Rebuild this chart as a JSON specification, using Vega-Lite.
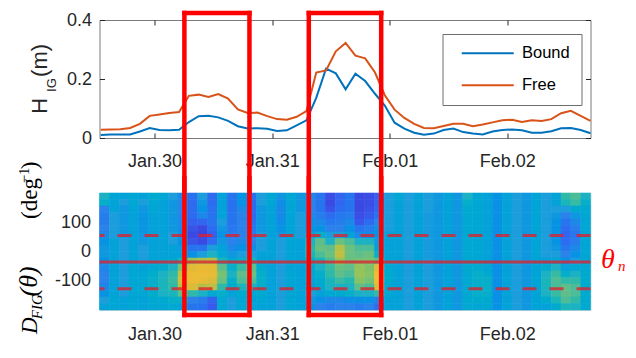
{
"$schema": "https://vega.github.io/schema/vega-lite/v6.json",
"padding": {"left": 15.5, "top": 9, "right": 4, "bottom": 4},
"background": "white",
"config": {"font": "Liberation Sans", "view": {"stroke": null}, "axis": {"labelFontSize": 18, "labelColor": "#262626", "grid": false, "tickColor": "#262626", "domainColor": "#262626", "labelFont": "Liberation Sans"}},
"spacing": 55,
"bounds": "flush",
"datasets": {
"waves": [
{"t":"2017-01-29T13:00","s":"Bound","h":0.010},{"t":"2017-01-29T15:00","s":"Bound","h":0.012},{"t":"2017-01-29T17:00","s":"Bound","h":0.012},{"t":"2017-01-29T19:00","s":"Bound","h":0.012},{"t":"2017-01-29T21:00","s":"Bound","h":0.022},{"t":"2017-01-29T23:00","s":"Bound","h":0.034},{"t":"2017-01-30T01:00","s":"Bound","h":0.027},{"t":"2017-01-30T03:00","s":"Bound","h":0.026},{"t":"2017-01-30T05:00","s":"Bound","h":0.028},{"t":"2017-01-30T07:00","s":"Bound","h":0.054},{"t":"2017-01-30T09:00","s":"Bound","h":0.074},{"t":"2017-01-30T11:00","s":"Bound","h":0.075},{"t":"2017-01-30T13:00","s":"Bound","h":0.070},{"t":"2017-01-30T15:00","s":"Bound","h":0.058},{"t":"2017-01-30T17:00","s":"Bound","h":0.040},{"t":"2017-01-30T19:00","s":"Bound","h":0.032},{"t":"2017-01-30T21:00","s":"Bound","h":0.033},{"t":"2017-01-30T23:00","s":"Bound","h":0.031},{"t":"2017-01-31T01:00","s":"Bound","h":0.024},{"t":"2017-01-31T03:00","s":"Bound","h":0.026},{"t":"2017-01-31T05:00","s":"Bound","h":0.043},{"t":"2017-01-31T07:00","s":"Bound","h":0.060},{"t":"2017-01-31T09:00","s":"Bound","h":0.136},{"t":"2017-01-31T11:00","s":"Bound","h":0.235},{"t":"2017-01-31T13:00","s":"Bound","h":0.219},{"t":"2017-01-31T15:00","s":"Bound","h":0.165},{"t":"2017-01-31T17:00","s":"Bound","h":0.218},{"t":"2017-01-31T19:00","s":"Bound","h":0.193},{"t":"2017-01-31T21:00","s":"Bound","h":0.150},{"t":"2017-01-31T23:00","s":"Bound","h":0.110},{"t":"2017-02-01T01:00","s":"Bound","h":0.052},{"t":"2017-02-01T03:00","s":"Bound","h":0.032},{"t":"2017-02-01T05:00","s":"Bound","h":0.018},{"t":"2017-02-01T07:00","s":"Bound","h":0.011},{"t":"2017-02-01T09:00","s":"Bound","h":0.015},{"t":"2017-02-01T11:00","s":"Bound","h":0.027},{"t":"2017-02-01T13:00","s":"Bound","h":0.032},{"t":"2017-02-01T15:00","s":"Bound","h":0.020},{"t":"2017-02-01T17:00","s":"Bound","h":0.015},{"t":"2017-02-01T19:00","s":"Bound","h":0.012},{"t":"2017-02-01T21:00","s":"Bound","h":0.022},{"t":"2017-02-01T23:00","s":"Bound","h":0.027},{"t":"2017-02-02T01:00","s":"Bound","h":0.029},{"t":"2017-02-02T03:00","s":"Bound","h":0.026},{"t":"2017-02-02T05:00","s":"Bound","h":0.018},{"t":"2017-02-02T07:00","s":"Bound","h":0.018},{"t":"2017-02-02T09:00","s":"Bound","h":0.023},{"t":"2017-02-02T11:00","s":"Bound","h":0.033},{"t":"2017-02-02T13:00","s":"Bound","h":0.034},{"t":"2017-02-02T15:00","s":"Bound","h":0.027},{"t":"2017-02-02T17:00","s":"Bound","h":0.016},
{"t":"2017-01-29T13:00","s":"Free","h":0.028},{"t":"2017-01-29T15:00","s":"Free","h":0.029},{"t":"2017-01-29T17:00","s":"Free","h":0.030},{"t":"2017-01-29T19:00","s":"Free","h":0.034},{"t":"2017-01-29T21:00","s":"Free","h":0.048},{"t":"2017-01-29T23:00","s":"Free","h":0.075},{"t":"2017-01-30T01:00","s":"Free","h":0.080},{"t":"2017-01-30T03:00","s":"Free","h":0.085},{"t":"2017-01-30T05:00","s":"Free","h":0.088},{"t":"2017-01-30T07:00","s":"Free","h":0.143},{"t":"2017-01-30T09:00","s":"Free","h":0.147},{"t":"2017-01-30T11:00","s":"Free","h":0.139},{"t":"2017-01-30T13:00","s":"Free","h":0.149},{"t":"2017-01-30T15:00","s":"Free","h":0.134},{"t":"2017-01-30T17:00","s":"Free","h":0.097},{"t":"2017-01-30T19:00","s":"Free","h":0.085},{"t":"2017-01-30T21:00","s":"Free","h":0.086},{"t":"2017-01-30T23:00","s":"Free","h":0.074},{"t":"2017-01-31T01:00","s":"Free","h":0.064},{"t":"2017-01-31T03:00","s":"Free","h":0.062},{"t":"2017-01-31T05:00","s":"Free","h":0.072},{"t":"2017-01-31T07:00","s":"Free","h":0.091},{"t":"2017-01-31T09:00","s":"Free","h":0.222},{"t":"2017-01-31T11:00","s":"Free","h":0.229},{"t":"2017-01-31T13:00","s":"Free","h":0.294},{"t":"2017-01-31T15:00","s":"Free","h":0.322},{"t":"2017-01-31T17:00","s":"Free","h":0.279},{"t":"2017-01-31T19:00","s":"Free","h":0.270},{"t":"2017-01-31T21:00","s":"Free","h":0.222},{"t":"2017-01-31T23:00","s":"Free","h":0.145},{"t":"2017-02-01T01:00","s":"Free","h":0.096},{"t":"2017-02-01T03:00","s":"Free","h":0.068},{"t":"2017-02-01T05:00","s":"Free","h":0.048},{"t":"2017-02-01T07:00","s":"Free","h":0.034},{"t":"2017-02-01T09:00","s":"Free","h":0.033},{"t":"2017-02-01T11:00","s":"Free","h":0.041},{"t":"2017-02-01T13:00","s":"Free","h":0.048},{"t":"2017-02-01T15:00","s":"Free","h":0.048},{"t":"2017-02-01T17:00","s":"Free","h":0.040},{"t":"2017-02-01T19:00","s":"Free","h":0.046},{"t":"2017-02-01T21:00","s":"Free","h":0.053},{"t":"2017-02-01T23:00","s":"Free","h":0.060},{"t":"2017-02-02T01:00","s":"Free","h":0.062},{"t":"2017-02-02T03:00","s":"Free","h":0.054},{"t":"2017-02-02T05:00","s":"Free","h":0.060},{"t":"2017-02-02T07:00","s":"Free","h":0.058},{"t":"2017-02-02T09:00","s":"Free","h":0.064},{"t":"2017-02-02T11:00","s":"Free","h":0.084},{"t":"2017-02-02T13:00","s":"Free","h":0.092},{"t":"2017-02-02T15:00","s":"Free","h":0.075},{"t":"2017-02-02T17:00","s":"Free","h":0.058}
],
"events": [
{"start":"2017-01-30T06:05","end":"2017-01-30T19:22"},
{"start":"2017-01-31T07:29","end":"2017-01-31T22:16"}
],
"guides": [
{"d":55,"k":"dashed"},{"d":-36,"k":"solid"},{"d":-127,"k":"dashed"}
],
"one": [{}],
"heat": [
{"c":0,"r":0,"v":50},{"c":0,"r":1,"v":48},{"c":0,"r":2,"v":30},{"c":0,"r":3,"v":28},{"c":0,"r":4,"v":28},{"c":0,"r":5,"v":30},{"c":0,"r":6,"v":32},{"c":0,"r":7,"v":36},{"c":0,"r":8,"v":38},{"c":0,"r":9,"v":38},{"c":0,"r":10,"v":36},{"c":0,"r":11,"v":32},{"c":0,"r":12,"v":30},{"c":0,"r":13,"v":30},{"c":0,"r":14,"v":32},{"c":0,"r":15,"v":36},{"c":0,"r":16,"v":40},{"c":0,"r":17,"v":42},
{"c":1,"r":0,"v":44},{"c":1,"r":1,"v":43},{"c":1,"r":2,"v":42},{"c":1,"r":3,"v":40},{"c":1,"r":4,"v":40},{"c":1,"r":5,"v":40},{"c":1,"r":6,"v":40},{"c":1,"r":7,"v":42},{"c":1,"r":8,"v":42},{"c":1,"r":9,"v":42},{"c":1,"r":10,"v":42},{"c":1,"r":11,"v":42},{"c":1,"r":12,"v":42},{"c":1,"r":13,"v":42},{"c":1,"r":14,"v":42},{"c":1,"r":15,"v":43},{"c":1,"r":16,"v":44},{"c":1,"r":17,"v":44},
{"c":2,"r":0,"v":42},{"c":2,"r":1,"v":40},{"c":2,"r":2,"v":38},{"c":2,"r":3,"v":38},{"c":2,"r":4,"v":38},{"c":2,"r":5,"v":38},{"c":2,"r":6,"v":38},{"c":2,"r":7,"v":40},{"c":2,"r":8,"v":40},{"c":2,"r":9,"v":40},{"c":2,"r":10,"v":40},{"c":2,"r":11,"v":40},{"c":2,"r":12,"v":40},{"c":2,"r":13,"v":40},{"c":2,"r":14,"v":40},{"c":2,"r":15,"v":40},{"c":2,"r":16,"v":42},{"c":2,"r":17,"v":42},
{"c":3,"r":0,"v":44},{"c":3,"r":1,"v":44},{"c":3,"r":2,"v":43},{"c":3,"r":3,"v":42},{"c":3,"r":4,"v":42},{"c":3,"r":5,"v":42},{"c":3,"r":6,"v":42},{"c":3,"r":7,"v":42},{"c":3,"r":8,"v":42},{"c":3,"r":9,"v":42},{"c":3,"r":10,"v":43},{"c":3,"r":11,"v":44},{"c":3,"r":12,"v":44},{"c":3,"r":13,"v":44},{"c":3,"r":14,"v":44},{"c":3,"r":15,"v":44},{"c":3,"r":16,"v":44},{"c":3,"r":17,"v":44},
{"c":4,"r":0,"v":42},{"c":4,"r":1,"v":40},{"c":4,"r":2,"v":38},{"c":4,"r":3,"v":37},{"c":4,"r":4,"v":37},{"c":4,"r":5,"v":37},{"c":4,"r":6,"v":38},{"c":4,"r":7,"v":38},{"c":4,"r":8,"v":40},{"c":4,"r":9,"v":40},{"c":4,"r":10,"v":40},{"c":4,"r":11,"v":42},{"c":4,"r":12,"v":44},{"c":4,"r":13,"v":45},{"c":4,"r":14,"v":45},{"c":4,"r":15,"v":44},{"c":4,"r":16,"v":42},{"c":4,"r":17,"v":42},
{"c":5,"r":0,"v":46},{"c":5,"r":1,"v":45},{"c":5,"r":2,"v":44},{"c":5,"r":3,"v":42},{"c":5,"r":4,"v":42},{"c":5,"r":5,"v":42},{"c":5,"r":6,"v":42},{"c":5,"r":7,"v":42},{"c":5,"r":8,"v":42},{"c":5,"r":9,"v":42},{"c":5,"r":10,"v":43},{"c":5,"r":11,"v":45},{"c":5,"r":12,"v":47},{"c":5,"r":13,"v":48},{"c":5,"r":14,"v":48},{"c":5,"r":15,"v":47},{"c":5,"r":16,"v":45},{"c":5,"r":17,"v":44},
{"c":6,"r":0,"v":44},{"c":6,"r":1,"v":42},{"c":6,"r":2,"v":42},{"c":6,"r":3,"v":42},{"c":6,"r":4,"v":42},{"c":6,"r":5,"v":42},{"c":6,"r":6,"v":42},{"c":6,"r":7,"v":42},{"c":6,"r":8,"v":42},{"c":6,"r":9,"v":42},{"c":6,"r":10,"v":44},{"c":6,"r":11,"v":46},{"c":6,"r":12,"v":50},{"c":6,"r":13,"v":52},{"c":6,"r":14,"v":52},{"c":6,"r":15,"v":50},{"c":6,"r":16,"v":46},{"c":6,"r":17,"v":44},
{"c":7,"r":0,"v":40},{"c":7,"r":1,"v":38},{"c":7,"r":2,"v":38},{"c":7,"r":3,"v":38},{"c":7,"r":4,"v":38},{"c":7,"r":5,"v":38},{"c":7,"r":6,"v":40},{"c":7,"r":7,"v":40},{"c":7,"r":8,"v":42},{"c":7,"r":9,"v":42},{"c":7,"r":10,"v":45},{"c":7,"r":11,"v":50},{"c":7,"r":12,"v":55},{"c":7,"r":13,"v":56},{"c":7,"r":14,"v":55},{"c":7,"r":15,"v":52},{"c":7,"r":16,"v":48},{"c":7,"r":17,"v":45},
{"c":8,"r":0,"v":32},{"c":8,"r":1,"v":30},{"c":8,"r":2,"v":30},{"c":8,"r":3,"v":30},{"c":8,"r":4,"v":32},{"c":8,"r":5,"v":33},{"c":8,"r":6,"v":35},{"c":8,"r":7,"v":36},{"c":8,"r":8,"v":38},{"c":8,"r":9,"v":42},{"c":8,"r":10,"v":52},{"c":8,"r":11,"v":65},{"c":8,"r":12,"v":75},{"c":8,"r":13,"v":78},{"c":8,"r":14,"v":72},{"c":8,"r":15,"v":60},{"c":8,"r":16,"v":48},{"c":8,"r":17,"v":42},
{"c":9,"r":0,"v":24},{"c":9,"r":1,"v":22},{"c":9,"r":2,"v":22},{"c":9,"r":3,"v":22},{"c":9,"r":4,"v":18},{"c":9,"r":5,"v":12},{"c":9,"r":6,"v":8},{"c":9,"r":7,"v":12},{"c":9,"r":8,"v":25},{"c":9,"r":9,"v":35},{"c":9,"r":10,"v":68},{"c":9,"r":11,"v":82},{"c":9,"r":12,"v":86},{"c":9,"r":13,"v":86},{"c":9,"r":14,"v":80},{"c":9,"r":15,"v":55},{"c":9,"r":16,"v":30},{"c":9,"r":17,"v":25},
{"c":10,"r":0,"v":40},{"c":10,"r":1,"v":38},{"c":10,"r":2,"v":36},{"c":10,"r":3,"v":32},{"c":10,"r":4,"v":20},{"c":10,"r":5,"v":8},{"c":10,"r":6,"v":5},{"c":10,"r":7,"v":8},{"c":10,"r":8,"v":25},{"c":10,"r":9,"v":40},{"c":10,"r":10,"v":70},{"c":10,"r":11,"v":85},{"c":10,"r":12,"v":87},{"c":10,"r":13,"v":85},{"c":10,"r":14,"v":72},{"c":10,"r":15,"v":50},{"c":10,"r":16,"v":28},{"c":10,"r":17,"v":24},
{"c":11,"r":0,"v":22},{"c":11,"r":1,"v":22},{"c":11,"r":2,"v":24},{"c":11,"r":3,"v":25},{"c":11,"r":4,"v":25},{"c":11,"r":5,"v":22},{"c":11,"r":6,"v":18},{"c":11,"r":7,"v":22},{"c":11,"r":8,"v":40},{"c":11,"r":9,"v":50},{"c":11,"r":10,"v":72},{"c":11,"r":11,"v":84},{"c":11,"r":12,"v":85},{"c":11,"r":13,"v":80},{"c":11,"r":14,"v":74},{"c":11,"r":15,"v":45},{"c":11,"r":16,"v":18},{"c":11,"r":17,"v":15},
{"c":12,"r":0,"v":42},{"c":12,"r":1,"v":42},{"c":12,"r":2,"v":42},{"c":12,"r":3,"v":42},{"c":12,"r":4,"v":40},{"c":12,"r":5,"v":38},{"c":12,"r":6,"v":36},{"c":12,"r":7,"v":38},{"c":12,"r":8,"v":42},{"c":12,"r":9,"v":45},{"c":12,"r":10,"v":52},{"c":12,"r":11,"v":60},{"c":12,"r":12,"v":64},{"c":12,"r":13,"v":62},{"c":12,"r":14,"v":55},{"c":12,"r":15,"v":48},{"c":12,"r":16,"v":45},{"c":12,"r":17,"v":45},
{"c":13,"r":0,"v":25},{"c":13,"r":1,"v":24},{"c":13,"r":2,"v":24},{"c":13,"r":3,"v":25},{"c":13,"r":4,"v":25},{"c":13,"r":5,"v":26},{"c":13,"r":6,"v":28},{"c":13,"r":7,"v":30},{"c":13,"r":8,"v":32},{"c":13,"r":9,"v":38},{"c":13,"r":10,"v":45},{"c":13,"r":11,"v":48},{"c":13,"r":12,"v":50},{"c":13,"r":13,"v":48},{"c":13,"r":14,"v":46},{"c":13,"r":15,"v":42},{"c":13,"r":16,"v":40},{"c":13,"r":17,"v":40},
{"c":14,"r":0,"v":36},{"c":14,"r":1,"v":35},{"c":14,"r":2,"v":32},{"c":14,"r":3,"v":30},{"c":14,"r":4,"v":30},{"c":14,"r":5,"v":30},{"c":14,"r":6,"v":30},{"c":14,"r":7,"v":32},{"c":14,"r":8,"v":35},{"c":14,"r":9,"v":40},{"c":14,"r":10,"v":48},{"c":14,"r":11,"v":56},{"c":14,"r":12,"v":60},{"c":14,"r":13,"v":58},{"c":14,"r":14,"v":52},{"c":14,"r":15,"v":46},{"c":14,"r":16,"v":44},{"c":14,"r":17,"v":44},
{"c":15,"r":0,"v":24},{"c":15,"r":1,"v":22},{"c":15,"r":2,"v":22},{"c":15,"r":3,"v":22},{"c":15,"r":4,"v":24},{"c":15,"r":5,"v":26},{"c":15,"r":6,"v":28},{"c":15,"r":7,"v":30},{"c":15,"r":8,"v":34},{"c":15,"r":9,"v":40},{"c":15,"r":10,"v":52},{"c":15,"r":11,"v":60},{"c":15,"r":12,"v":62},{"c":15,"r":13,"v":58},{"c":15,"r":14,"v":50},{"c":15,"r":15,"v":44},{"c":15,"r":16,"v":42},{"c":15,"r":17,"v":42},
{"c":16,"r":0,"v":40},{"c":16,"r":1,"v":40},{"c":16,"r":2,"v":38},{"c":16,"r":3,"v":38},{"c":16,"r":4,"v":38},{"c":16,"r":5,"v":38},{"c":16,"r":6,"v":40},{"c":16,"r":7,"v":40},{"c":16,"r":8,"v":40},{"c":16,"r":9,"v":42},{"c":16,"r":10,"v":42},{"c":16,"r":11,"v":46},{"c":16,"r":12,"v":48},{"c":16,"r":13,"v":48},{"c":16,"r":14,"v":48},{"c":16,"r":15,"v":46},{"c":16,"r":16,"v":44},{"c":16,"r":17,"v":42},
{"c":17,"r":0,"v":44},{"c":17,"r":1,"v":44},{"c":17,"r":2,"v":42},{"c":17,"r":3,"v":42},{"c":17,"r":4,"v":42},{"c":17,"r":5,"v":42},{"c":17,"r":6,"v":42},{"c":17,"r":7,"v":42},{"c":17,"r":8,"v":42},{"c":17,"r":9,"v":42},{"c":17,"r":10,"v":42},{"c":17,"r":11,"v":42},{"c":17,"r":12,"v":42},{"c":17,"r":13,"v":42},{"c":17,"r":14,"v":42},{"c":17,"r":15,"v":42},{"c":17,"r":16,"v":42},{"c":17,"r":17,"v":42},
{"c":18,"r":0,"v":38},{"c":18,"r":1,"v":34},{"c":18,"r":2,"v":33},{"c":18,"r":3,"v":33},{"c":18,"r":4,"v":34},{"c":18,"r":5,"v":36},{"c":18,"r":6,"v":38},{"c":18,"r":7,"v":40},{"c":18,"r":8,"v":40},{"c":18,"r":9,"v":40},{"c":18,"r":10,"v":40},{"c":18,"r":11,"v":40},{"c":18,"r":12,"v":40},{"c":18,"r":13,"v":40},{"c":18,"r":14,"v":40},{"c":18,"r":15,"v":40},{"c":18,"r":16,"v":40},{"c":18,"r":17,"v":40},
{"c":19,"r":0,"v":44},{"c":19,"r":1,"v":44},{"c":19,"r":2,"v":44},{"c":19,"r":3,"v":43},{"c":19,"r":4,"v":43},{"c":19,"r":5,"v":43},{"c":19,"r":6,"v":43},{"c":19,"r":7,"v":43},{"c":19,"r":8,"v":43},{"c":19,"r":9,"v":43},{"c":19,"r":10,"v":43},{"c":19,"r":11,"v":43},{"c":19,"r":12,"v":44},{"c":19,"r":13,"v":44},{"c":19,"r":14,"v":44},{"c":19,"r":15,"v":44},{"c":19,"r":16,"v":44},{"c":19,"r":17,"v":44},
{"c":20,"r":0,"v":38},{"c":20,"r":1,"v":38},{"c":20,"r":2,"v":38},{"c":20,"r":3,"v":40},{"c":20,"r":4,"v":40},{"c":20,"r":5,"v":40},{"c":20,"r":6,"v":40},{"c":20,"r":7,"v":42},{"c":20,"r":8,"v":42},{"c":20,"r":9,"v":42},{"c":20,"r":10,"v":42},{"c":20,"r":11,"v":42},{"c":20,"r":12,"v":42},{"c":20,"r":13,"v":42},{"c":20,"r":14,"v":42},{"c":20,"r":15,"v":42},{"c":20,"r":16,"v":42},{"c":20,"r":17,"v":42},
{"c":21,"r":0,"v":32},{"c":21,"r":1,"v":30},{"c":21,"r":2,"v":30},{"c":21,"r":3,"v":32},{"c":21,"r":4,"v":34},{"c":21,"r":5,"v":36},{"c":21,"r":6,"v":42},{"c":21,"r":7,"v":50},{"c":21,"r":8,"v":54},{"c":21,"r":9,"v":52},{"c":21,"r":10,"v":48},{"c":21,"r":11,"v":45},{"c":21,"r":12,"v":44},{"c":21,"r":13,"v":42},{"c":21,"r":14,"v":42},{"c":21,"r":15,"v":40},{"c":21,"r":16,"v":38},{"c":21,"r":17,"v":36},
{"c":22,"r":0,"v":25},{"c":22,"r":1,"v":25},{"c":22,"r":2,"v":25},{"c":22,"r":3,"v":28},{"c":22,"r":4,"v":32},{"c":22,"r":5,"v":36},{"c":22,"r":6,"v":48},{"c":22,"r":7,"v":60},{"c":22,"r":8,"v":62},{"c":22,"r":9,"v":58},{"c":22,"r":10,"v":52},{"c":22,"r":11,"v":50},{"c":22,"r":12,"v":48},{"c":22,"r":13,"v":46},{"c":22,"r":14,"v":45},{"c":22,"r":15,"v":42},{"c":22,"r":16,"v":35},{"c":22,"r":17,"v":30},
{"c":23,"r":0,"v":10},{"c":23,"r":1,"v":8},{"c":23,"r":2,"v":12},{"c":23,"r":3,"v":22},{"c":23,"r":4,"v":26},{"c":23,"r":5,"v":30},{"c":23,"r":6,"v":40},{"c":23,"r":7,"v":50},{"c":23,"r":8,"v":60},{"c":23,"r":9,"v":62},{"c":23,"r":10,"v":58},{"c":23,"r":11,"v":56},{"c":23,"r":12,"v":55},{"c":23,"r":13,"v":52},{"c":23,"r":14,"v":50},{"c":23,"r":15,"v":45},{"c":23,"r":16,"v":32},{"c":23,"r":17,"v":28},
{"c":24,"r":0,"v":20},{"c":24,"r":1,"v":20},{"c":24,"r":2,"v":22},{"c":24,"r":3,"v":26},{"c":24,"r":4,"v":28},{"c":24,"r":5,"v":30},{"c":24,"r":6,"v":40},{"c":24,"r":7,"v":62},{"c":24,"r":8,"v":72},{"c":24,"r":9,"v":75},{"c":24,"r":10,"v":68},{"c":24,"r":11,"v":62},{"c":24,"r":12,"v":60},{"c":24,"r":13,"v":56},{"c":24,"r":14,"v":50},{"c":24,"r":15,"v":46},{"c":24,"r":16,"v":32},{"c":24,"r":17,"v":30},
{"c":25,"r":0,"v":25},{"c":25,"r":1,"v":25},{"c":25,"r":2,"v":25},{"c":25,"r":3,"v":28},{"c":25,"r":4,"v":32},{"c":25,"r":5,"v":35},{"c":25,"r":6,"v":42},{"c":25,"r":7,"v":58},{"c":25,"r":8,"v":62},{"c":25,"r":9,"v":62},{"c":25,"r":10,"v":62},{"c":25,"r":11,"v":60},{"c":25,"r":12,"v":58},{"c":25,"r":13,"v":54},{"c":25,"r":14,"v":50},{"c":25,"r":15,"v":48},{"c":25,"r":16,"v":34},{"c":25,"r":17,"v":30},
{"c":26,"r":0,"v":8},{"c":26,"r":1,"v":8},{"c":26,"r":2,"v":8},{"c":26,"r":3,"v":10},{"c":26,"r":4,"v":14},{"c":26,"r":5,"v":25},{"c":26,"r":6,"v":32},{"c":26,"r":7,"v":50},{"c":26,"r":8,"v":58},{"c":26,"r":9,"v":60},{"c":26,"r":10,"v":64},{"c":26,"r":11,"v":68},{"c":26,"r":12,"v":68},{"c":26,"r":13,"v":66},{"c":26,"r":14,"v":60},{"c":26,"r":15,"v":50},{"c":26,"r":16,"v":35},{"c":26,"r":17,"v":28},
{"c":27,"r":0,"v":10},{"c":27,"r":1,"v":10},{"c":27,"r":2,"v":12},{"c":27,"r":3,"v":15},{"c":27,"r":4,"v":22},{"c":27,"r":5,"v":28},{"c":27,"r":6,"v":34},{"c":27,"r":7,"v":50},{"c":27,"r":8,"v":58},{"c":27,"r":9,"v":62},{"c":27,"r":10,"v":64},{"c":27,"r":11,"v":65},{"c":27,"r":12,"v":66},{"c":27,"r":13,"v":64},{"c":27,"r":14,"v":58},{"c":27,"r":15,"v":50},{"c":27,"r":16,"v":35},{"c":27,"r":17,"v":30},
{"c":28,"r":0,"v":18},{"c":28,"r":1,"v":18},{"c":28,"r":2,"v":20},{"c":28,"r":3,"v":24},{"c":28,"r":4,"v":30},{"c":28,"r":5,"v":34},{"c":28,"r":6,"v":36},{"c":28,"r":7,"v":38},{"c":28,"r":8,"v":42},{"c":28,"r":9,"v":48},{"c":28,"r":10,"v":60},{"c":28,"r":11,"v":82},{"c":28,"r":12,"v":88},{"c":28,"r":13,"v":88},{"c":28,"r":14,"v":80},{"c":28,"r":15,"v":55},{"c":28,"r":16,"v":28},{"c":28,"r":17,"v":22},
{"c":29,"r":0,"v":40},{"c":29,"r":1,"v":40},{"c":29,"r":2,"v":40},{"c":29,"r":3,"v":40},{"c":29,"r":4,"v":40},{"c":29,"r":5,"v":40},{"c":29,"r":6,"v":42},{"c":29,"r":7,"v":42},{"c":29,"r":8,"v":42},{"c":29,"r":9,"v":42},{"c":29,"r":10,"v":44},{"c":29,"r":11,"v":45},{"c":29,"r":12,"v":46},{"c":29,"r":13,"v":46},{"c":29,"r":14,"v":45},{"c":29,"r":15,"v":44},{"c":29,"r":16,"v":42},{"c":29,"r":17,"v":42},
{"c":30,"r":0,"v":44},{"c":30,"r":1,"v":42},{"c":30,"r":2,"v":42},{"c":30,"r":3,"v":42},{"c":30,"r":4,"v":42},{"c":30,"r":5,"v":42},{"c":30,"r":6,"v":42},{"c":30,"r":7,"v":42},{"c":30,"r":8,"v":42},{"c":30,"r":9,"v":42},{"c":30,"r":10,"v":42},{"c":30,"r":11,"v":42},{"c":30,"r":12,"v":42},{"c":30,"r":13,"v":42},{"c":30,"r":14,"v":42},{"c":30,"r":15,"v":42},{"c":30,"r":16,"v":42},{"c":30,"r":17,"v":42},
{"c":31,"r":0,"v":40},{"c":31,"r":1,"v":40},{"c":31,"r":2,"v":40},{"c":31,"r":3,"v":40},{"c":31,"r":4,"v":40},{"c":31,"r":5,"v":40},{"c":31,"r":6,"v":40},{"c":31,"r":7,"v":40},{"c":31,"r":8,"v":40},{"c":31,"r":9,"v":40},{"c":31,"r":10,"v":40},{"c":31,"r":11,"v":40},{"c":31,"r":12,"v":40},{"c":31,"r":13,"v":40},{"c":31,"r":14,"v":40},{"c":31,"r":15,"v":40},{"c":31,"r":16,"v":40},{"c":31,"r":17,"v":40},
{"c":32,"r":0,"v":42},{"c":32,"r":1,"v":42},{"c":32,"r":2,"v":42},{"c":32,"r":3,"v":42},{"c":32,"r":4,"v":42},{"c":32,"r":5,"v":42},{"c":32,"r":6,"v":42},{"c":32,"r":7,"v":42},{"c":32,"r":8,"v":42},{"c":32,"r":9,"v":42},{"c":32,"r":10,"v":42},{"c":32,"r":11,"v":42},{"c":32,"r":12,"v":42},{"c":32,"r":13,"v":42},{"c":32,"r":14,"v":42},{"c":32,"r":15,"v":42},{"c":32,"r":16,"v":42},{"c":32,"r":17,"v":42},
{"c":33,"r":0,"v":40},{"c":33,"r":1,"v":40},{"c":33,"r":2,"v":40},{"c":33,"r":3,"v":39},{"c":33,"r":4,"v":39},{"c":33,"r":5,"v":39},{"c":33,"r":6,"v":39},{"c":33,"r":7,"v":39},{"c":33,"r":8,"v":39},{"c":33,"r":9,"v":39},{"c":33,"r":10,"v":40},{"c":33,"r":11,"v":40},{"c":33,"r":12,"v":40},{"c":33,"r":13,"v":40},{"c":33,"r":14,"v":40},{"c":33,"r":15,"v":40},{"c":33,"r":16,"v":40},{"c":33,"r":17,"v":40},
{"c":34,"r":0,"v":38},{"c":34,"r":1,"v":38},{"c":34,"r":2,"v":38},{"c":34,"r":3,"v":38},{"c":34,"r":4,"v":38},{"c":34,"r":5,"v":38},{"c":34,"r":6,"v":38},{"c":34,"r":7,"v":38},{"c":34,"r":8,"v":38},{"c":34,"r":9,"v":38},{"c":34,"r":10,"v":38},{"c":34,"r":11,"v":38},{"c":34,"r":12,"v":38},{"c":34,"r":13,"v":38},{"c":34,"r":14,"v":38},{"c":34,"r":15,"v":38},{"c":34,"r":16,"v":38},{"c":34,"r":17,"v":38},
{"c":35,"r":0,"v":42},{"c":35,"r":1,"v":42},{"c":35,"r":2,"v":42},{"c":35,"r":3,"v":42},{"c":35,"r":4,"v":42},{"c":35,"r":5,"v":42},{"c":35,"r":6,"v":42},{"c":35,"r":7,"v":42},{"c":35,"r":8,"v":42},{"c":35,"r":9,"v":42},{"c":35,"r":10,"v":42},{"c":35,"r":11,"v":42},{"c":35,"r":12,"v":42},{"c":35,"r":13,"v":42},{"c":35,"r":14,"v":42},{"c":35,"r":15,"v":42},{"c":35,"r":16,"v":42},{"c":35,"r":17,"v":42},
{"c":36,"r":0,"v":38},{"c":36,"r":1,"v":38},{"c":36,"r":2,"v":38},{"c":36,"r":3,"v":38},{"c":36,"r":4,"v":38},{"c":36,"r":5,"v":38},{"c":36,"r":6,"v":38},{"c":36,"r":7,"v":38},{"c":36,"r":8,"v":38},{"c":36,"r":9,"v":38},{"c":36,"r":10,"v":38},{"c":36,"r":11,"v":38},{"c":36,"r":12,"v":38},{"c":36,"r":13,"v":38},{"c":36,"r":14,"v":38},{"c":36,"r":15,"v":38},{"c":36,"r":16,"v":38},{"c":36,"r":17,"v":38},
{"c":37,"r":0,"v":50},{"c":37,"r":1,"v":48},{"c":37,"r":2,"v":46},{"c":37,"r":3,"v":45},{"c":37,"r":4,"v":45},{"c":37,"r":5,"v":45},{"c":37,"r":6,"v":45},{"c":37,"r":7,"v":45},{"c":37,"r":8,"v":45},{"c":37,"r":9,"v":45},{"c":37,"r":10,"v":45},{"c":37,"r":11,"v":45},{"c":37,"r":12,"v":45},{"c":37,"r":13,"v":45},{"c":37,"r":14,"v":45},{"c":37,"r":15,"v":45},{"c":37,"r":16,"v":45},{"c":37,"r":17,"v":45},
{"c":38,"r":0,"v":44},{"c":38,"r":1,"v":44},{"c":38,"r":2,"v":44},{"c":38,"r":3,"v":44},{"c":38,"r":4,"v":44},{"c":38,"r":5,"v":44},{"c":38,"r":6,"v":44},{"c":38,"r":7,"v":44},{"c":38,"r":8,"v":44},{"c":38,"r":9,"v":44},{"c":38,"r":10,"v":44},{"c":38,"r":11,"v":46},{"c":38,"r":12,"v":48},{"c":38,"r":13,"v":48},{"c":38,"r":14,"v":48},{"c":38,"r":15,"v":48},{"c":38,"r":16,"v":46},{"c":38,"r":17,"v":44},
{"c":39,"r":0,"v":42},{"c":39,"r":1,"v":42},{"c":39,"r":2,"v":42},{"c":39,"r":3,"v":42},{"c":39,"r":4,"v":42},{"c":39,"r":5,"v":42},{"c":39,"r":6,"v":42},{"c":39,"r":7,"v":42},{"c":39,"r":8,"v":42},{"c":39,"r":9,"v":42},{"c":39,"r":10,"v":42},{"c":39,"r":11,"v":44},{"c":39,"r":12,"v":46},{"c":39,"r":13,"v":48},{"c":39,"r":14,"v":48},{"c":39,"r":15,"v":48},{"c":39,"r":16,"v":46},{"c":39,"r":17,"v":44},
{"c":40,"r":0,"v":36},{"c":40,"r":1,"v":35},{"c":40,"r":2,"v":35},{"c":40,"r":3,"v":35},{"c":40,"r":4,"v":35},{"c":40,"r":5,"v":35},{"c":40,"r":6,"v":35},{"c":40,"r":7,"v":35},{"c":40,"r":8,"v":35},{"c":40,"r":9,"v":35},{"c":40,"r":10,"v":35},{"c":40,"r":11,"v":35},{"c":40,"r":12,"v":35},{"c":40,"r":13,"v":35},{"c":40,"r":14,"v":35},{"c":40,"r":15,"v":35},{"c":40,"r":16,"v":35},{"c":40,"r":17,"v":36},
{"c":41,"r":0,"v":42},{"c":41,"r":1,"v":42},{"c":41,"r":2,"v":42},{"c":41,"r":3,"v":42},{"c":41,"r":4,"v":42},{"c":41,"r":5,"v":42},{"c":41,"r":6,"v":42},{"c":41,"r":7,"v":42},{"c":41,"r":8,"v":42},{"c":41,"r":9,"v":42},{"c":41,"r":10,"v":42},{"c":41,"r":11,"v":42},{"c":41,"r":12,"v":42},{"c":41,"r":13,"v":42},{"c":41,"r":14,"v":42},{"c":41,"r":15,"v":42},{"c":41,"r":16,"v":42},{"c":41,"r":17,"v":42},
{"c":42,"r":0,"v":40},{"c":42,"r":1,"v":40},{"c":42,"r":2,"v":40},{"c":42,"r":3,"v":40},{"c":42,"r":4,"v":40},{"c":42,"r":5,"v":40},{"c":42,"r":6,"v":40},{"c":42,"r":7,"v":40},{"c":42,"r":8,"v":40},{"c":42,"r":9,"v":40},{"c":42,"r":10,"v":40},{"c":42,"r":11,"v":40},{"c":42,"r":12,"v":40},{"c":42,"r":13,"v":40},{"c":42,"r":14,"v":40},{"c":42,"r":15,"v":40},{"c":42,"r":16,"v":40},{"c":42,"r":17,"v":40},
{"c":43,"r":0,"v":38},{"c":43,"r":1,"v":38},{"c":43,"r":2,"v":38},{"c":43,"r":3,"v":38},{"c":43,"r":4,"v":38},{"c":43,"r":5,"v":38},{"c":43,"r":6,"v":38},{"c":43,"r":7,"v":38},{"c":43,"r":8,"v":38},{"c":43,"r":9,"v":38},{"c":43,"r":10,"v":38},{"c":43,"r":11,"v":38},{"c":43,"r":12,"v":38},{"c":43,"r":13,"v":38},{"c":43,"r":14,"v":38},{"c":43,"r":15,"v":38},{"c":43,"r":16,"v":38},{"c":43,"r":17,"v":38},
{"c":44,"r":0,"v":43},{"c":44,"r":1,"v":43},{"c":44,"r":2,"v":43},{"c":44,"r":3,"v":43},{"c":44,"r":4,"v":43},{"c":44,"r":5,"v":43},{"c":44,"r":6,"v":43},{"c":44,"r":7,"v":43},{"c":44,"r":8,"v":43},{"c":44,"r":9,"v":43},{"c":44,"r":10,"v":43},{"c":44,"r":11,"v":43},{"c":44,"r":12,"v":43},{"c":44,"r":13,"v":43},{"c":44,"r":14,"v":43},{"c":44,"r":15,"v":43},{"c":44,"r":16,"v":43},{"c":44,"r":17,"v":43},
{"c":45,"r":0,"v":40},{"c":45,"r":1,"v":40},{"c":45,"r":2,"v":40},{"c":45,"r":3,"v":40},{"c":45,"r":4,"v":40},{"c":45,"r":5,"v":40},{"c":45,"r":6,"v":40},{"c":45,"r":7,"v":40},{"c":45,"r":8,"v":40},{"c":45,"r":9,"v":40},{"c":45,"r":10,"v":42},{"c":45,"r":11,"v":46},{"c":45,"r":12,"v":50},{"c":45,"r":13,"v":52},{"c":45,"r":14,"v":52},{"c":45,"r":15,"v":50},{"c":45,"r":16,"v":46},{"c":45,"r":17,"v":42},
{"c":46,"r":0,"v":42},{"c":46,"r":1,"v":42},{"c":46,"r":2,"v":40},{"c":46,"r":3,"v":38},{"c":46,"r":4,"v":36},{"c":46,"r":5,"v":36},{"c":46,"r":6,"v":36},{"c":46,"r":7,"v":36},{"c":46,"r":8,"v":38},{"c":46,"r":9,"v":40},{"c":46,"r":10,"v":44},{"c":46,"r":11,"v":50},{"c":46,"r":12,"v":56},{"c":46,"r":13,"v":58},{"c":46,"r":14,"v":58},{"c":46,"r":15,"v":56},{"c":46,"r":16,"v":52},{"c":46,"r":17,"v":46},
{"c":47,"r":0,"v":55},{"c":47,"r":1,"v":52},{"c":47,"r":2,"v":40},{"c":47,"r":3,"v":30},{"c":47,"r":4,"v":25},{"c":47,"r":5,"v":22},{"c":47,"r":6,"v":20},{"c":47,"r":7,"v":22},{"c":47,"r":8,"v":26},{"c":47,"r":9,"v":30},{"c":47,"r":10,"v":36},{"c":47,"r":11,"v":42},{"c":47,"r":12,"v":48},{"c":47,"r":13,"v":55},{"c":47,"r":14,"v":60},{"c":47,"r":15,"v":60},{"c":47,"r":16,"v":58},{"c":47,"r":17,"v":52},
{"c":48,"r":0,"v":58},{"c":48,"r":1,"v":56},{"c":48,"r":2,"v":46},{"c":48,"r":3,"v":38},{"c":48,"r":4,"v":32},{"c":48,"r":5,"v":28},{"c":48,"r":6,"v":26},{"c":48,"r":7,"v":28},{"c":48,"r":8,"v":32},{"c":48,"r":9,"v":36},{"c":48,"r":10,"v":40},{"c":48,"r":11,"v":44},{"c":48,"r":12,"v":50},{"c":48,"r":13,"v":55},{"c":48,"r":14,"v":58},{"c":48,"r":15,"v":58},{"c":48,"r":16,"v":55},{"c":48,"r":17,"v":50},
{"c":49,"r":0,"v":50},{"c":49,"r":1,"v":48},{"c":49,"r":2,"v":45},{"c":49,"r":3,"v":44},{"c":49,"r":4,"v":44},{"c":49,"r":5,"v":44},{"c":49,"r":6,"v":44},{"c":49,"r":7,"v":44},{"c":49,"r":8,"v":44},{"c":49,"r":9,"v":44},{"c":49,"r":10,"v":44},{"c":49,"r":11,"v":45},{"c":49,"r":12,"v":46},{"c":49,"r":13,"v":46},{"c":49,"r":14,"v":46},{"c":49,"r":15,"v":46},{"c":49,"r":16,"v":46},{"c":49,"r":17,"v":46}
]
},
"vconcat": [
{
"width": 491, "height": 118,
"view": {"stroke": "#7a7a7a", "strokeWidth": 1},
"resolve": {"axis": {"x": "independent", "y": "independent"}},
"layer": [
{
"data": {"name": "waves"},
"mark": {"type": "line", "strokeWidth": 2},
"encoding": {
"x": {"field": "t", "type": "temporal", "scale": {"domain": [{"year":2017,"month":1,"date":29,"hours":12,"minutes":45},{"year":2017,"month":2,"date":2,"hours":17}]},
 "axis": {"orient": "bottom", "title": null, "domain": false, "format": "%b.%d", "values": [{"year":2017,"month":1,"date":30},{"year":2017,"month":1,"date":31},{"year":2017,"month":2,"date":1},{"year":2017,"month":2,"date":2}], "tickSize": -5, "labelPadding": 19}},
"y": {"field": "h", "type": "quantitative", "scale": {"domain": [0, 0.4]},
 "axis": {"orient": "left", "title": null, "domain": false, "values": [0, 0.2, 0.4], "format": "~g", "tickSize": -5, "labelPadding": 13}},
"color": {"field": "s", "type": "nominal", "scale": {"domain": ["Bound", "Free"], "range": ["#0072BD", "#D95319"]},
 "legend": {"title": null, "orient": "none", "legendX": 343, "legendY": 14, "symbolType": "M0,0H20", "symbolSize": 27.04, "symbolStrokeWidth": 2, "labelFontSize": 16.5, "labelColor": "#000000", "labelFont": "Liberation Sans", "fillColor": "white", "strokeColor": "#6e6e6e", "padding": 11, "labelOffset": 52, "rowPadding": 15}}
}
},
{
"data": {"name": "events"},
"mark": {"type": "rule", "color": "#FF0000", "strokeWidth": 4.5, "strokeCap": "square"},
"encoding": {
"x": {"field": "start", "type": "temporal", "axis": {"orient": "top", "title": null, "labels": false, "domain": false, "values": [{"year":2017,"month":1,"date":30},{"year":2017,"month":1,"date":31},{"year":2017,"month":2,"date":1},{"year":2017,"month":2,"date":2}], "tickSize": -5}},
"y": {"datum": 0.4237, "type": "quantitative", "axis": {"orient": "right", "title": null, "labels": false, "domain": false, "values": [0, 0.2, 0.4], "tickSize": -5}},
"y2": {"datum": -0.25}
}
},
{
"data": {"name": "events"},
"mark": {"type": "rule", "color": "#FF0000", "strokeWidth": 4.5, "strokeCap": "square"},
"encoding": {
"x": {"field": "end", "type": "temporal", "axis": null},
"y": {"datum": 0.4237, "type": "quantitative", "axis": null},
"y2": {"datum": -0.25}
}
},
{
"data": {"name": "events"},
"mark": {"type": "rule", "color": "#FF0000", "strokeWidth": 4.5, "strokeCap": "square"},
"encoding": {
"x": {"field": "start", "type": "temporal", "axis": null},
"x2": {"field": "end"},
"y": {"datum": 0.4237, "type": "quantitative", "axis": null}
}
},
{
"data": {"name": "one"},
"mark": {"type": "text", "text": "H", "angle": 270, "align": "left", "baseline": "alphabetic", "fontSize": 22, "color": "#262626"},
"encoding": {"x": {"datum": {"year":2017,"month":1,"date":29,"hours":2,"minutes":5}, "type": "temporal", "axis": null}, "y": {"datum": 0.0824, "type": "quantitative", "axis": null}}
},
{
"data": {"name": "one"},
"mark": {"type": "text", "text": "IG", "angle": 270, "align": "left", "baseline": "alphabetic", "fontSize": 13, "color": "#262626"},
"encoding": {"x": {"datum": {"year":2017,"month":1,"date":29,"hours":3,"minutes":47}, "type": "temporal", "axis": null}, "y": {"datum": 0.156, "type": "quantitative", "axis": null}}
},
{
"data": {"name": "one"},
"mark": {"type": "text", "text": "(m)", "angle": 270, "align": "left", "baseline": "alphabetic", "fontSize": 22, "color": "#262626"},
"encoding": {"x": {"datum": {"year":2017,"month":1,"date":29,"hours":2,"minutes":5}, "type": "temporal", "axis": null}, "y": {"datum": 0.207, "type": "quantitative", "axis": null}}
}
]
},
{
"width": 491, "height": 117,
"view": {"stroke": "#d8d8d8", "strokeWidth": 1},
"resolve": {"scale": {"x": "independent", "y": "independent"}},
"layer": [
{
"data": {"name": "heat"},
"mark": {"type": "rect", "strokeWidth": 0.6},
"encoding": {
"x": {"field": "c", "type": "ordinal", "axis": null, "scale": {"paddingInner": 0, "paddingOuter": 0}},
"y": {"field": "r", "type": "ordinal", "axis": null, "scale": {"paddingInner": 0, "paddingOuter": 0}},
"color": {"field": "v", "type": "quantitative", "legend": null, "scale": {"domain": [0,10,20,30,40,50,60,70,80,90,100], "range": ["#3A3AD6","#3B4DE6","#3366F0","#2A82EA","#1C9DDC","#1DB1C4","#5FBE8A","#A8C24E","#DABB3A","#F6BA32","#F9D42A"]}},
"stroke": {"field": "v", "type": "quantitative", "legend": null, "scale": {"domain": [0,10,20,30,40,50,60,70,80,90,100], "range": ["#3A3AD6","#3B4DE6","#3366F0","#2A82EA","#1C9DDC","#1DB1C4","#5FBE8A","#A8C24E","#DABB3A","#F6BA32","#F9D42A"]}}
}
},
{
"layer": [
{
"data": {"name": "guides"},
"mark": {"type": "rule", "color": "#E0202C", "strokeWidth": 3, "opacity": 0.78},
"encoding": {
"y": {"field": "d", "type": "quantitative", "scale": {"domain": [-175, 185]},
 "axis": {"title": null, "domain": false, "ticks": false, "values": [-100, 0, 100], "labelPadding": 9, "labelExpr": "datum.value < 0 ? '-' + abs(datum.value) : '' + datum.value"}},
"strokeDash": {"field": "k", "type": "nominal", "legend": null, "scale": {"domain": ["solid", "dashed"], "range": [[1, 0], [14, 13]]}}
}
},
{
"data": {"name": "events"},
"mark": {"type": "rule", "color": "#FF0000", "strokeWidth": 4.5, "strokeCap": "square"},
"encoding": {
"x": {"field": "start", "type": "temporal", "scale": {"domain": [{"year":2017,"month":1,"date":29,"hours":12,"minutes":45},{"year":2017,"month":2,"date":2,"hours":17}]},
 "axis": {"orient": "bottom", "title": null, "domain": false, "ticks": false, "format": "%b.%d", "values": [{"year":2017,"month":1,"date":30},{"year":2017,"month":1,"date":31},{"year":2017,"month":2,"date":1},{"year":2017,"month":2,"date":2}], "labelPadding": 15}},
"y": {"datum": 250, "type": "quantitative"},
"y2": {"datum": -217.5}
}
},
{
"data": {"name": "events"},
"mark": {"type": "rule", "color": "#FF0000", "strokeWidth": 4.5, "strokeCap": "square"},
"encoding": {
"x": {"field": "end", "type": "temporal"},
"y": {"datum": 250, "type": "quantitative"},
"y2": {"datum": -217.5}
}
},
{
"data": {"name": "events"},
"mark": {"type": "rule", "color": "#FF0000", "strokeWidth": 4.5, "strokeCap": "square"},
"encoding": {
"x": {"field": "start", "type": "temporal"},
"x2": {"field": "end"},
"y": {"datum": -217.5, "type": "quantitative"}
}
},
{
"data": {"name": "one"},
"mark": {"type": "text", "text": "D", "angle": 270, "align": "left", "baseline": "alphabetic", "fontSize": 23, "font": "Liberation Serif", "fontStyle": "italic", "color": "#000000"},
"encoding": {"x": {"datum": {"year":2017,"month":1,"date":29,"hours":0,"minutes":3}, "type": "temporal"}, "y": {"datum": -281.8, "type": "quantitative"}}
},
{
"data": {"name": "one"},
"mark": {"type": "text", "text": "FIG", "angle": 270, "align": "left", "baseline": "alphabetic", "fontSize": 15, "font": "Liberation Serif", "fontStyle": "italic", "color": "#000000"},
"encoding": {"x": {"datum": {"year":2017,"month":1,"date":29,"hours":1,"minutes":1}, "type": "temporal"}, "y": {"datum": -231.3, "type": "quantitative"}}
},
{
"data": {"name": "one"},
"mark": {"type": "text", "text": "(θ)", "angle": 270, "align": "left", "baseline": "alphabetic", "fontSize": 26, "font": "Liberation Serif", "fontStyle": "italic", "color": "#000000"},
"encoding": {"x": {"datum": {"year":2017,"month":1,"date":29,"hours":0,"minutes":3}, "type": "temporal"}, "y": {"datum": -153.8, "type": "quantitative"}}
},
{
"data": {"name": "one"},
"mark": {"type": "text", "text": "(deg", "angle": 270, "align": "left", "baseline": "alphabetic", "fontSize": 23, "font": "Liberation Serif", "color": "#000000"},
"encoding": {"x": {"datum": {"year":2017,"month":1,"date":29,"hours":0,"minutes":3}, "type": "temporal"}, "y": {"datum": 111.5, "type": "quantitative"}}
},
{
"data": {"name": "one"},
"mark": {"type": "text", "text": "−1", "angle": 270, "align": "left", "baseline": "alphabetic", "fontSize": 15, "font": "Liberation Serif", "color": "#000000"},
"encoding": {"x": {"datum": {"year":2017,"month":1,"date":28,"hours":22,"minutes":24}, "type": "temporal"}, "y": {"datum": 233, "type": "quantitative"}}
},
{
"data": {"name": "one"},
"mark": {"type": "text", "text": ")", "angle": 270, "align": "left", "baseline": "alphabetic", "fontSize": 23, "font": "Liberation Serif", "color": "#000000"},
"encoding": {"x": {"datum": {"year":2017,"month":1,"date":29,"hours":0,"minutes":3}, "type": "temporal"}, "y": {"datum": 281, "type": "quantitative"}}
},
{
"data": {"name": "one"},
"mark": {"type": "text", "text": "θ", "align": "left", "baseline": "alphabetic", "fontSize": 28, "font": "Liberation Serif", "fontStyle": "italic", "color": "#FF0000"},
"encoding": {"x": {"datum": {"year":2017,"month":2,"date":2,"hours":19,"minutes":10}, "type": "temporal"}, "y": {"datum": -56.8, "type": "quantitative"}}
},
{
"data": {"name": "one"},
"mark": {"type": "text", "text": "n", "align": "left", "baseline": "alphabetic", "fontSize": 15, "font": "Liberation Serif", "fontStyle": "italic", "color": "#FF0000"},
"encoding": {"x": {"datum": {"year":2017,"month":2,"date":2,"hours":22,"minutes":38}, "type": "temporal"}, "y": {"datum": -67.5, "type": "quantitative"}}
}
]
}
]
}
]
}
